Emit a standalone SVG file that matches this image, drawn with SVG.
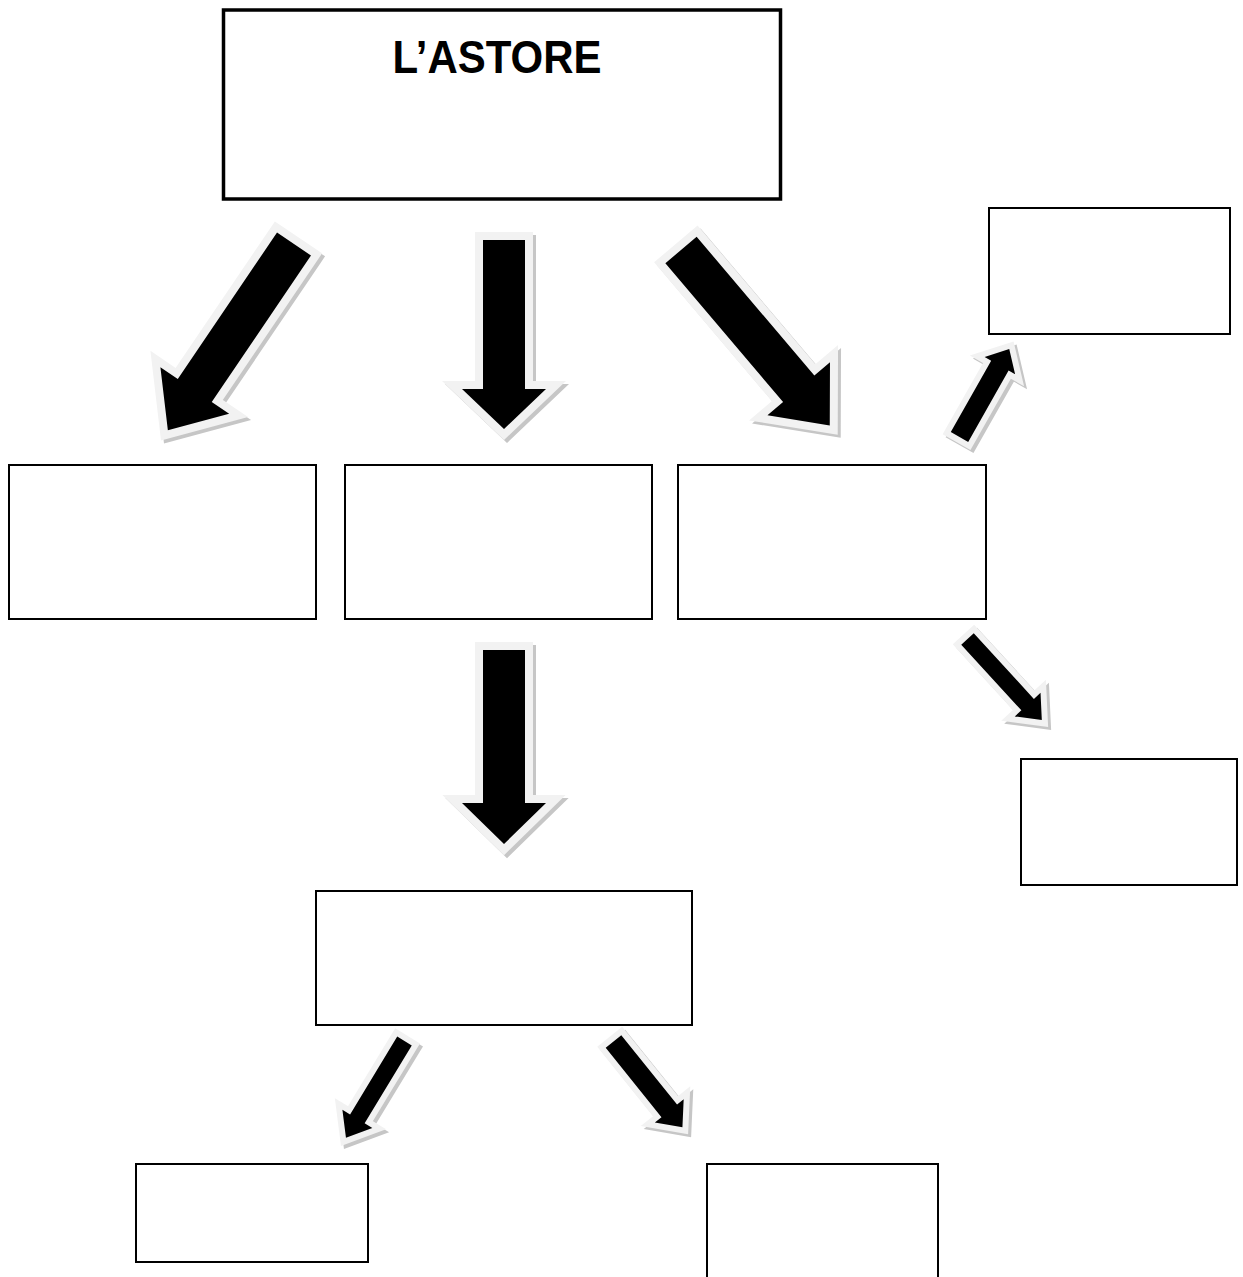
<svg xmlns="http://www.w3.org/2000/svg" xmlns:xlink="http://www.w3.org/1999/xlink" width="1243" height="1277" viewBox="0 0 1243 1277">
<style>
.bg{fill:#ffffff}
.box{fill:none;stroke:#000;stroke-width:2}
.title{fill:none;stroke:#000;stroke-width:3.5}
.sh{fill:#c6c6c6;stroke:#c6c6c6;stroke-linejoin:miter;stroke-miterlimit:10}
.ol{fill:#f2f2f2;stroke:#f2f2f2;stroke-linejoin:miter;stroke-miterlimit:10}
.big{stroke-width:16}
.small{stroke-width:12}
.bk{fill:#000}
.lbl{font-family:"Liberation Sans",Arial,sans-serif;font-weight:bold;font-size:46px;fill:#000}
</style>
<defs>
<path id="a1" d="M0,-20.5 H177 V-41.5 L225,0 L177,41.5 V20.5 H0 Z"/>
<path id="a2" d="M0,-21 H149 V-42 L189,0 L149,42 V21 H0 Z"/>
<path id="a3" d="M0,-20.5 H182 V-41 L230,0 L182,41 V20.5 H0 Z"/>
<path id="a4" d="M0,-10 H82 V-17.5 L101,0 L82,17.5 V10 H0 Z"/>
<path id="a5" d="M0,-8.5 H89 V-17.5 L110,0 L89,17.5 V8.5 H0 Z"/>
<path id="a6" d="M0,-21 H153 V-42 L194,0 L153,42 V21 H0 Z"/>
<path id="a7" d="M0,-8.5 H91 V-17.5 L113,0 L91,17.5 V8.5 H0 Z"/>
<path id="a8" d="M0,-10 H89 V-18.5 L110,0 L89,18.5 V10 H0 Z"/>
</defs>
<rect class="bg" x="0" y="0" width="1243" height="1277"/>
<g id="connectors">
  <g id="shadows" transform="translate(3,3)">
    <use xlink:href="#a1" class="sh big" transform="translate(294,244) rotate(124.1)"/>
    <use xlink:href="#a2" class="sh big" transform="translate(504,240) rotate(90)"/>
    <use xlink:href="#a3" class="sh big" transform="translate(681,250) rotate(49.7)"/>
    <use xlink:href="#a4" class="sh small" transform="translate(959.5,437) rotate(-60.5)"/>
    <use xlink:href="#a5" class="sh small" transform="translate(967.5,639) rotate(47.5)"/>
    <use xlink:href="#a6" class="sh big" transform="translate(504,650) rotate(90)"/>
    <use xlink:href="#a7" class="sh small" transform="translate(404.5,1041) rotate(121.2)"/>
    <use xlink:href="#a8" class="sh small" transform="translate(613.5,1041.5) rotate(51.2)"/>
  </g>
  <g id="outlines">
    <use xlink:href="#a1" class="ol big" transform="translate(294,244) rotate(124.1)"/>
    <use xlink:href="#a2" class="ol big" transform="translate(504,240) rotate(90)"/>
    <use xlink:href="#a3" class="ol big" transform="translate(681,250) rotate(49.7)"/>
    <use xlink:href="#a4" class="ol small" transform="translate(959.5,437) rotate(-60.5)"/>
    <use xlink:href="#a5" class="ol small" transform="translate(967.5,639) rotate(47.5)"/>
    <use xlink:href="#a6" class="ol big" transform="translate(504,650) rotate(90)"/>
    <use xlink:href="#a7" class="ol small" transform="translate(404.5,1041) rotate(121.2)"/>
    <use xlink:href="#a8" class="ol small" transform="translate(613.5,1041.5) rotate(51.2)"/>
  </g>
  <g id="arrows">
    <use xlink:href="#a1" class="bk" transform="translate(294,244) rotate(124.1)"/>
    <use xlink:href="#a2" class="bk" transform="translate(504,240) rotate(90)"/>
    <use xlink:href="#a3" class="bk" transform="translate(681,250) rotate(49.7)"/>
    <use xlink:href="#a4" class="bk" transform="translate(959.5,437) rotate(-60.5)"/>
    <use xlink:href="#a5" class="bk" transform="translate(967.5,639) rotate(47.5)"/>
    <use xlink:href="#a6" class="bk" transform="translate(504,650) rotate(90)"/>
    <use xlink:href="#a7" class="bk" transform="translate(404.5,1041) rotate(121.2)"/>
    <use xlink:href="#a8" class="bk" transform="translate(613.5,1041.5) rotate(51.2)"/>
  </g>
</g>
<g id="node-title">
  <rect class="title" x="223.5" y="10" width="557" height="189"/>
  <text class="lbl" x="497" y="73" text-anchor="middle" textLength="209" lengthAdjust="spacingAndGlyphs">L’ASTORE</text>
</g>
<g id="node-topright"><rect class="box" x="989" y="208" width="241" height="126"/></g>
<g id="node-row1"><rect class="box" x="9" y="465" width="307" height="154"/></g>
<g id="node-row2"><rect class="box" x="345" y="465" width="307" height="154"/></g>
<g id="node-row3"><rect class="box" x="678" y="465" width="308" height="154"/></g>
<g id="node-right"><rect class="box" x="1021" y="759" width="216" height="126"/></g>
<g id="node-middle"><rect class="box" x="316" y="891" width="376" height="134"/></g>
<g id="node-bottomleft"><rect class="box" x="136" y="1164" width="232" height="98"/></g>
<g id="node-bottomright"><path class="box" d="M707,1285 V1164 H938 V1285"/></g>
</svg>
